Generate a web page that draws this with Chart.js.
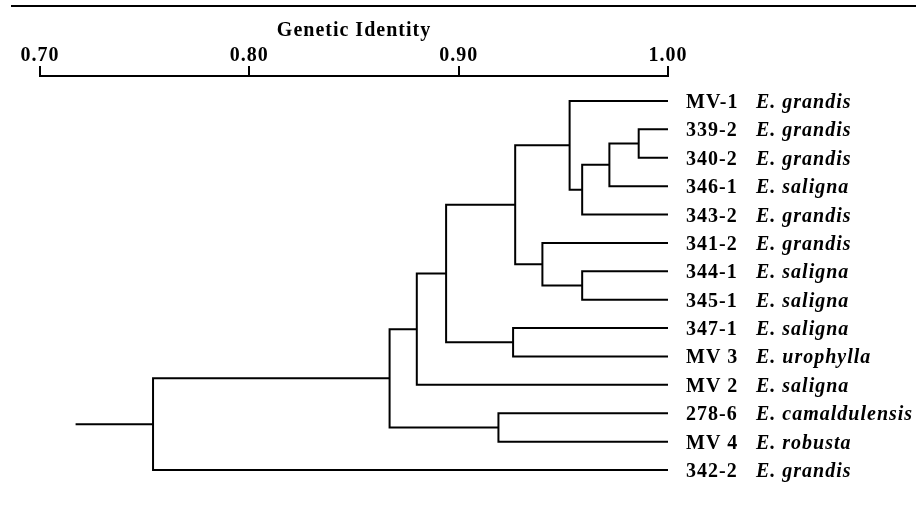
<!DOCTYPE html>
<html>
<head>
<meta charset="utf-8">
<script src="https://cdn.jsdelivr.net/npm/chart.js@4.4.0/dist/chart.umd.min.js"></script>
<style>
  html, body { margin: 0; padding: 0; background: #fff; }
</style>
</head>
<body>
<canvas id="dendro" width="916" height="507"></canvas>
<script>
// leaves, top to bottom
const accessions = ["MV-1", "339-2", "340-2", "346-1", "343-2", "341-2", "344-1",
  "345-1", "347-1", "MV 3", "MV 2", "278-6", "MV 4", "342-2"];
const species = ["E. grandis", "E. grandis", "E. grandis", "E. saligna", "E. grandis",
  "E. grandis", "E. saligna", "E. saligna", "E. saligna", "E. urophylla", "E. saligna",
  "E. camaldulensis", "E. robusta", "E. grandis"];

// cluster joins: L = leaf index, N = earlier join index
const mergeLeft = ["L1", "N0", "N1", "L0", "L6", "L5", "N3", "L8", "N6", "N8", "L11", "N9", "N11"];
const mergeRight = ["L2", "L3", "L4", "N2", "L7", "N4", "N5", "L9", "N7", "L10", "L12", "N10", "L13"];
const mergeIdentity = [0.986, 0.972, 0.959, 0.953, 0.959, 0.940, 0.927, 0.926, 0.894,
  0.880, 0.919, 0.867, 0.754];
const rootStart = 0.717;

const axisTicks = [0.70, 0.80, 0.90, 1.00];

const FONT = "'Liberation Serif', 'Times New Roman', serif";

function buildNodes() {
  const nodes = [];
  const look = (ref) => {
    const i = parseInt(ref.slice(1), 10);
    return ref[0] === "L" ? { h: 1.0, y: i } : nodes[i];
  };
  mergeIdentity.forEach((h, k) => {
    const a = look(mergeLeft[k]);
    const b = look(mergeRight[k]);
    nodes.push({ h: h, y: (a.y + b.y) / 2, a: a, b: b });
  });
  return nodes;
}

function buildDatasets() {
  const nodes = buildNodes();
  const sets = nodes.map((n) => ({
    data: [
      { x: n.a.h, y: n.a.y },
      { x: n.h, y: n.a.y },
      { x: n.h, y: n.b.y },
      { x: n.b.h, y: n.b.y },
    ],
  }));
  const root = nodes[nodes.length - 1];
  sets.push({ data: [{ x: root.h, y: root.y }, { x: rootStart, y: root.y }] });
  return sets.map((s) => ({
    ...s,
    showLine: true,
    borderColor: "#000",
    borderWidth: 2,
    pointRadius: 0,
    tension: 0,
    clip: false,
  }));
}

const leafLabels = {
  id: "leafLabels",
  beforeDraw(chart) {
    chart.ctx.letterSpacing = "1px";
  },
  afterDraw(chart) {
    const { ctx, scales } = chart;
    const x0 = scales.x.getPixelForValue(1.0);
    ctx.save();
    ctx.letterSpacing = "1px";
    ctx.fillStyle = "#000";
    ctx.strokeStyle = "#000";
    ctx.lineWidth = 2;
    // rule above the figure
    ctx.beginPath();
    ctx.moveTo(11, 6);
    ctx.lineTo(chart.width, 6);
    ctx.stroke();

    ctx.textBaseline = "alphabetic";
    ctx.textAlign = "left";
    accessions.forEach((name, i) => {
      const y = scales.y.getPixelForValue(i) + 7;
      ctx.font = "bold 20px " + FONT;
      ctx.fillText(name, x0 + 18, y);
      ctx.font = "italic bold 20px " + FONT;
      ctx.fillText(species[i], x0 + 88, y);
    });
    ctx.restore();
  },
};

new Chart(document.getElementById("dendro"), {
  type: "scatter",
  data: { datasets: buildDatasets() },
  options: {
    responsive: false,
    animation: false,
    layout: { padding: { top: 21, left: 40, right: 248, bottom: 10 } },
    plugins: {
      legend: { display: false },
      tooltip: { enabled: false },
    },
    scales: {
      x: {
        type: "linear",
        position: "top",
        min: 0.7,
        max: 1.0,
        afterBuildTicks: (axis) => {
          axis.ticks = axisTicks.map((v) => ({ value: v }));
        },
        ticks: {
          callback: (v) => Number(v).toFixed(2),
          color: "#000",
          padding: 0,
          font: { family: FONT, size: 20, weight: "bold", lineHeight: 1.0 },
        },
        grid: {
          drawOnChartArea: false,
          drawTicks: true,
          tickLength: 10,
          color: "#000",
          lineWidth: 2,
        },
        border: { display: true, color: "#000", width: 2 },
        title: {
          display: true,
          text: "Genetic Identity",
          color: "#000",
          padding: { top: 0, bottom: 5 },
          font: { family: FONT, size: 20, weight: "bold", lineHeight: 1.0 },
        },
      },
      y: {
        type: "linear",
        reverse: true,
        min: -0.88,
        max: 13.95,
        display: false,
      },
    },
  },
  plugins: [leafLabels],
});
</script>
</body>
</html>
